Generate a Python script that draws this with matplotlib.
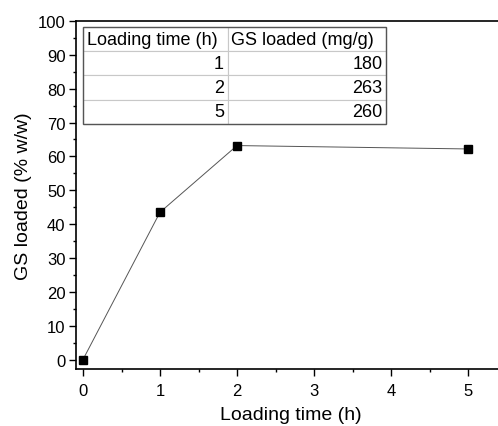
import matplotlib.pyplot as plt
from matplotlib.ticker import MultipleLocator
from matplotlib.patches import Rectangle

plt.rcParams["font.family"] = ["Liberation Sans", "DejaVu Sans"]

loading_time = [0, 1, 2, 5]
gs_loaded_pct = [0, 43.5, 63.2, 62.2]

table_header = ["Loading time (h)", "GS loaded (mg/g)"]
table_time = ["1", "2", "5"]
table_mg = ["180", "263", "260"]

fig = plt.figure(figsize=(4.98, 4.27), dpi=100)
# right spine falls just outside the picture, as in the source figure
ax = fig.add_axes([0.1526, 0.1335, 0.8614, 0.815])

ax.plot(loading_time, gs_loaded_pct, color="#555555", lw=0.7, zorder=2)
ax.plot(loading_time, gs_loaded_pct, ls="none", marker="s", ms=5.5,
        color="black", zorder=3)

ax.set_xlim(-0.091, 5.48)
ax.set_ylim(-2.8, 100)
ax.xaxis.set_major_locator(MultipleLocator(1))
ax.xaxis.set_minor_locator(MultipleLocator(0.5))
ax.yaxis.set_major_locator(MultipleLocator(10))
ax.yaxis.set_minor_locator(MultipleLocator(5))
ax.tick_params(which="both", direction="out", labelsize=12, width=1)
ax.tick_params(axis="x", pad=5)
ax.tick_params(axis="y", pad=2.5)
ax.tick_params(which="major", length=5)
ax.tick_params(which="minor", length=2.5)
for s in ax.spines.values():
    s.set_linewidth(1.2)

ax.set_xlabel("Loading time (h)", fontsize=14, labelpad=6)
ax.set_ylabel("GS loaded (% w/w)", fontsize=14, labelpad=4)

# table inset, drawn in axes coordinates
x0, y0, w, h = 0.0163, 0.704, 0.7075, 0.279
rows = [[t, m] for t, m in zip(table_time, table_mg)]
tbl = ax.table(cellText=rows, colLabels=table_header, cellLoc="right",
               colLoc="left", colWidths=[145, 159.5],
               bbox=[x0, y0, w, h])
tbl.auto_set_font_size(False)
tbl.set_fontsize(13)
for (r, c), cell in tbl.get_celld().items():
    cell.set_edgecolor("#c8c8c8")
    cell.set_linewidth(0.8)
    cell.set_facecolor("white")
    cell.PAD = 0.025
ax.add_patch(Rectangle((x0, y0), w, h, transform=ax.transAxes,
                       fill=False, edgecolor="#555555", lw=1, zorder=10))

fig.savefig("out.png", dpi=100)
